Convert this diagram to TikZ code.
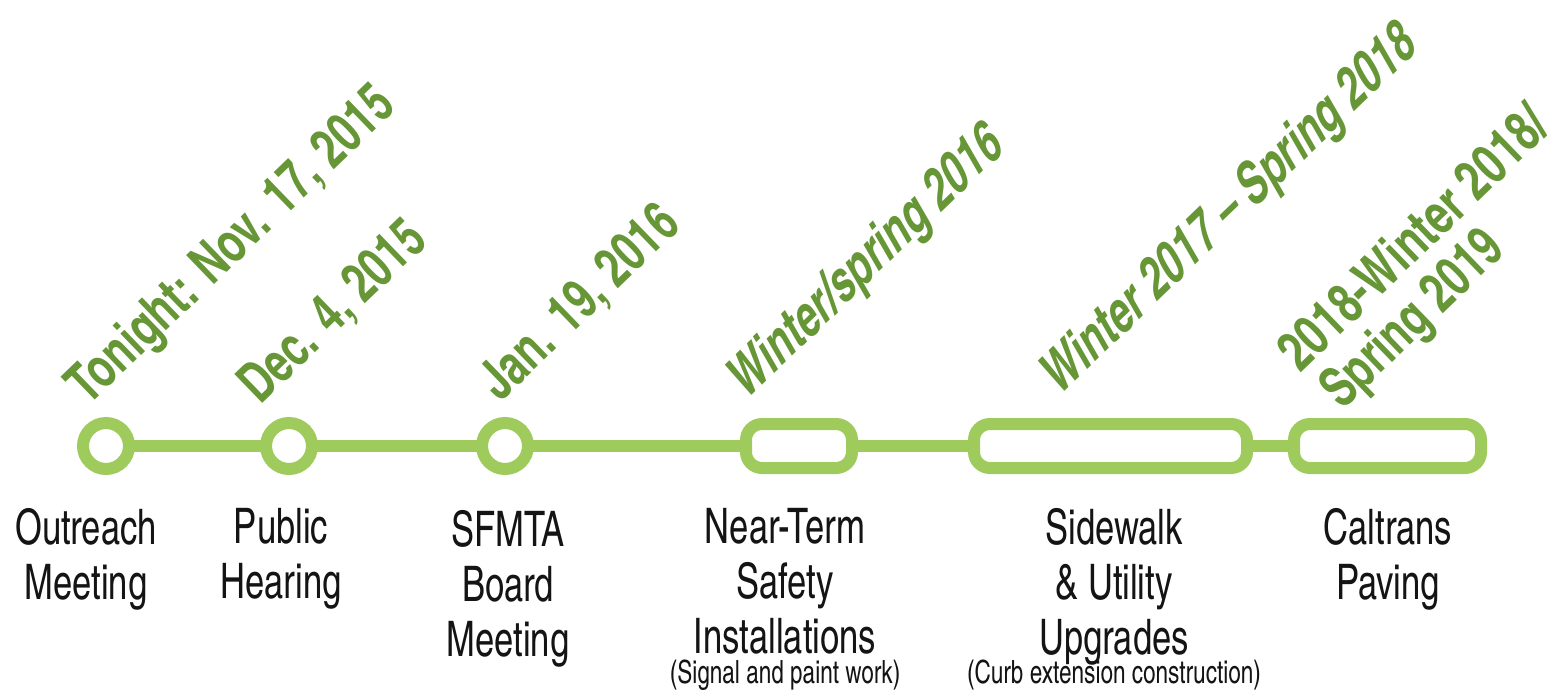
\documentclass[tikz,border=0pt]{standalone}
\usepackage{fontspec}
\newfontfamily\labfont{texgyreheroscn-regular.otf}[FakeStretch=0.86]
\newfontfamily\datefont{texgyreheroscn-bold.otf}[FakeStretch=0.88]
\definecolor{ringgreen}{RGB}{158,203,91}
\definecolor{dategreen}{RGB}{102,150,54}
\definecolor{labblack}{RGB}{20,20,20}
\tikzset{
  ring/.style={circle, draw=ringgreen, line width=12pt, fill=white, minimum size=46pt, inner sep=0pt},
  pill/.style={rectangle, rounded corners=16pt, draw=ringgreen, line width=12pt, fill=white, minimum height=44pt, inner sep=0pt},
  conn/.style={draw=ringgreen, line width=12pt},
  datelab/.style={anchor=base west, rotate=44, inner sep=0pt, text=dategreen, font=\datefont\fontsize{56}{62}\selectfont},
  slanted/.style={xslant=0.25},
  lab/.style={align=center, anchor=north, inner sep=0pt, text=labblack, font=\labfont\fontsize{49}{55}\selectfont},
  sublab/.style={anchor=base, inner sep=0pt, text=labblack, font=\labfont\fontsize{32}{36}\selectfont}
}
\begin{document}
\begin{tikzpicture}[x=1pt,y=-1pt]
\useasboundingbox (0,0) rectangle (1560,690);
\fill[white] (0,0) rectangle (1560,690);
% connectors first
\coordinate (p1) at (106,446);
\coordinate (p2) at (289,446);
\coordinate (p3) at (505,446);
\coordinate (p4) at (799,446);
\coordinate (p5) at (1110.5,446);
\coordinate (p6) at (1387.5,446);
\draw[conn] (p1) -- (p6);
% stations
\node[ring] (c1) at (p1) {};
\node[ring] (c2) at (p2) {};
\node[ring] (c3) at (p3) {};
\node[pill, minimum width=106pt] (s1) at (p4) {};
\node[pill, minimum width=273pt] (s2) at (p5) {};
\node[pill, minimum width=187pt] (s3) at (p6) {};
% dates
\node[datelab] (d1) at (88,407) {Tonight: Nov. 17, 2015};
\node[datelab] (d2) at (260,406) {Dec. 4, 2015};
\node[datelab] (d3) at (500,403) {Jan. 19, 2016};
\node[datelab, slanted] (d4) at (745,402) {Winter/spring 2016};
\node[datelab, slanted] (d5) at (1058,398) {Winter 2017 – Spring 2018};
\node[datelab, xscale=1.03] (d6a) at (1300,374) {2018-Winter 2018/};
\node[datelab] (d6b) at (1342,411) {Spring 2019};
% labels
\node[lab] (l1) at (86,508) {Outreach\\Meeting};
\node[lab] (l2) at (281,508) {Public\\Hearing};
\node[lab] (l3) at (508,510) {SFMTA\\Board\\Meeting};
\node[lab] (l4) at (785,508) {Near-Term\\Safety\\Installations};
\node[lab] (l5) at (1114,508) {Sidewalk\\\&~Utility\\Upgrades};
\node[lab] (l6) at (1388,508) {Caltrans\\Paving};
\node[sublab] (t4) at (785,683) {(Signal and paint work)};
\node[sublab] (t5) at (1114,683) {(Curb extension construction)};
\end{tikzpicture}
\end{document}
